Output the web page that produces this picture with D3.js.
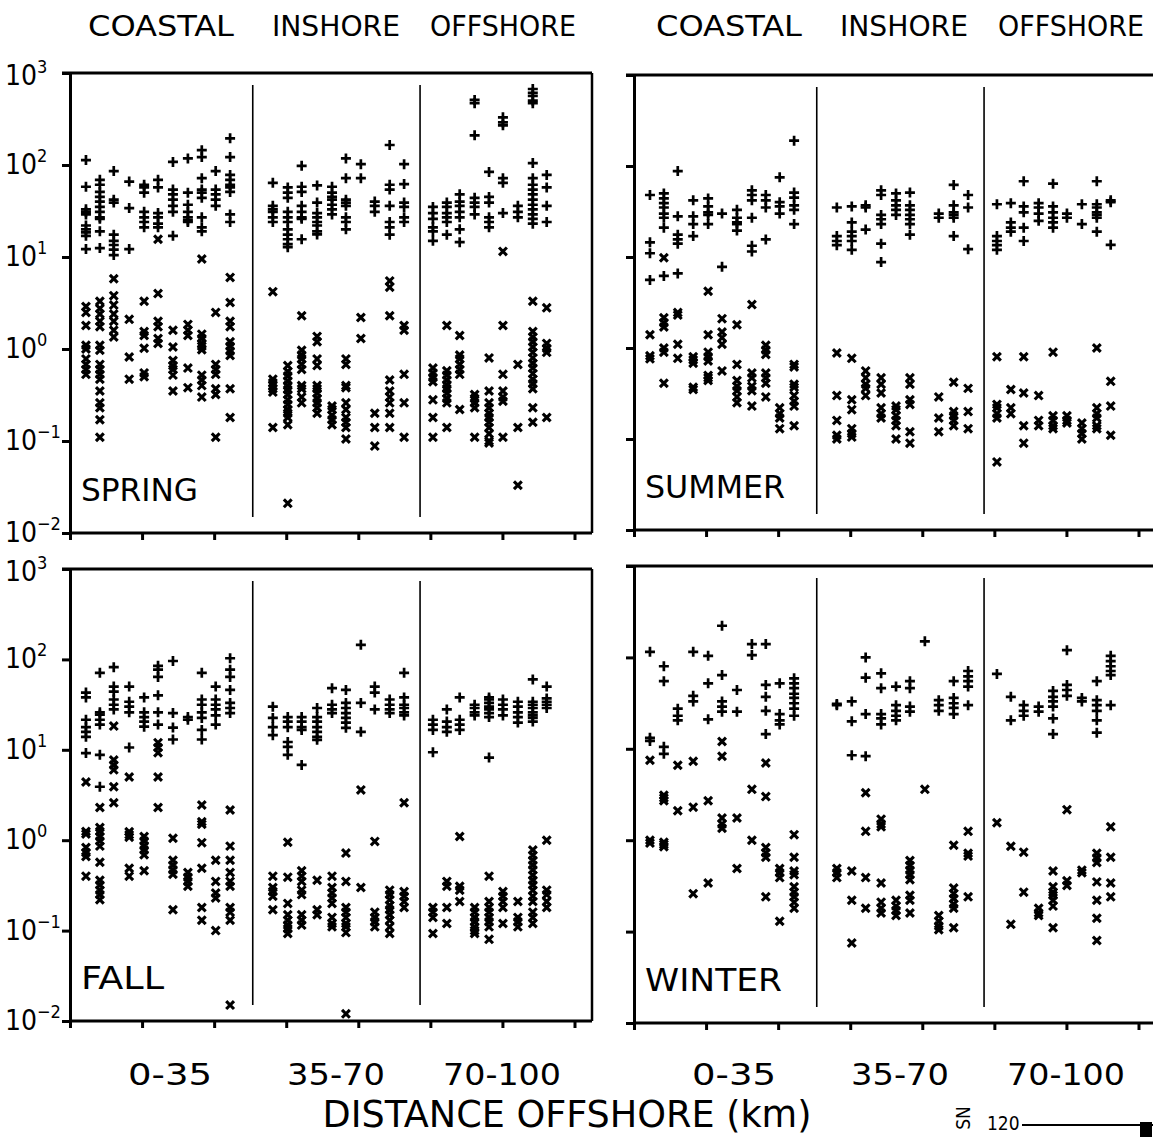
<!DOCTYPE html>
<html>
<head>
<meta charset="utf-8">
<script src="https://cdn.jsdelivr.net/npm/d3@7"></script>
<style>
  body { margin: 0; background: #fff; }
  svg { display: block; }
</style>
</head>
<body>
<div id="chart"></div>
<script>
// station positions (km offshore) : 11 coastal, 10 inshore, 9 offshore
const stationKm = [3.1, 5.8, 8.5, 11.5, 14.4, 17.1, 20.0, 22.9, 25.6, 28.3, 31.1,
                   39.4, 42.3, 45.0, 48.0, 50.9, 53.6, 56.5, 59.2, 62.1, 64.9,
                   70.5, 73.2, 75.7, 78.6, 81.4, 84.1, 87.0, 89.9, 92.6];
const regionNames = ["COASTAL", "INSHORE", "OFFSHORE"];
const rangeLabels = ["0-35", "35-70", "70-100"];
const dividerKm = [35.5, 68];
const xTickKm = [0, 14, 28, 42, 56, 70, 84, 98];
const yTickPowers = [-2, -1, 0, 1, 2, 3];

// "+" values per station
const springPlus = [
  [113, 58, 33, 31, 29, 22, 20, 18.5, 17, 12.2], [69, 61, 51, 45, 40, 35, 31, 27, 26, 19, 12.5],
  [86, 42, 39, 17.5, 15, 13.5, 12, 10.5], [66, 34, 12.2], [61, 57, 50, 31, 27, 24, 21],
  [69, 57, 30, 27, 23, 21], [108, 54, 48, 42, 36, 31, 17], [118, 50, 37, 31, 27, 25, 24],
  [145, 122, 72, 54, 50, 44, 27, 21, 19], [86, 54, 48, 42, 36], [195, 122, 78, 69, 61, 57, 51, 29, 24],
  [64, 36, 33, 31, 27, 24], [57, 50, 44, 31, 27, 24, 20, 17.5, 15.6, 13.8, 12.8],
  [98, 58, 51, 36, 31, 27, 26, 15.6], [60, 39, 30, 27, 24, 22, 19, 17.6], [58, 50, 45, 42, 37, 33, 29],
  [118, 72, 42, 39, 36, 27, 24, 20], [102, 72], [40, 36, 31], [165, 61, 54, 36, 24, 21, 17.5],
  [102, 62, 39, 35, 27, 24],
  [35, 30, 26, 21, 19, 15], [39, 35, 30, 27, 24, 17.5], [48, 40, 36, 31, 27, 20, 14.5],
  [510, 470, 210, 44, 39, 35, 29], [84, 45, 39, 27, 24, 21], [330, 290, 270, 72, 64, 30], [36, 31, 27],
  [670, 610, 565, 500, 470, 105, 72, 61, 54, 48, 42, 37, 33, 29, 26, 23], [78, 57, 36, 24]
];
const springCross = [
  [2.9, 2.5, 1.8, 1.1, 1.0, 0.78, 0.68, 0.6, 0.53],
  [3.3, 2.76, 2.4, 2.0, 1.75, 1.1, 0.97, 0.68, 0.6, 0.53, 0.47, 0.35, 0.26, 0.23, 0.17, 0.11],
  [5.8, 3.8, 3.0, 2.4, 2.0, 1.6, 1.35], [2.1, 0.82, 0.47], [3.3, 1.55, 1.4, 1.02, 0.55, 0.5],
  [15.6, 4.0, 2.0, 1.75, 1.3, 1.15], [1.6, 1.05, 0.75, 0.66, 0.6, 0.52, 0.35], [1.85, 1.6, 1.4, 0.62, 0.38],
  [9.5, 1.45, 1.3, 1.15, 1.07, 0.98, 0.52, 0.46, 0.4, 0.3], [2.5, 0.68, 0.6, 0.53, 0.37, 0.32, 0.11],
  [6.0, 3.2, 2.0, 1.75, 1.2, 1.07, 0.95, 0.85, 0.37, 0.18],
  [4.2, 0.47, 0.43, 0.4, 0.37, 0.34, 0.14],
  [0.66, 0.57, 0.51, 0.45, 0.4, 0.36, 0.32, 0.28, 0.25, 0.22, 0.2, 0.18, 0.15, 0.021],
  [2.3, 0.97, 0.86, 0.78, 0.68, 0.6, 0.4, 0.37, 0.3, 0.26],
  [1.37, 1.2, 0.78, 0.66, 0.4, 0.37, 0.33, 0.29, 0.26, 0.23, 0.2], [0.24, 0.22, 0.19, 0.17, 0.15],
  [0.78, 0.68, 0.4, 0.38, 0.26, 0.22, 0.18, 0.16, 0.14, 0.105], [2.2, 1.3], [0.2, 0.14, 0.088],
  [5.5, 4.7, 2.3, 0.46, 0.35, 0.3, 0.26, 0.2, 0.14], [1.8, 1.6, 0.53, 0.26, 0.11],
  [0.62, 0.55, 0.49, 0.44, 0.28, 0.18, 0.11], [1.8, 0.58, 0.52, 0.46, 0.41, 0.37, 0.33, 0.29, 0.26, 0.14],
  [1.4, 0.86, 0.78, 0.68, 0.6, 0.53, 0.22], [0.32, 0.29, 0.26, 0.23, 0.11],
  [0.8, 0.35, 0.26, 0.23, 0.2, 0.18, 0.16, 0.14, 0.12, 0.1, 0.095], [11.5, 1.8, 0.53, 0.35, 0.3, 0.27, 0.11],
  [0.68, 0.14, 0.033],
  [3.3, 1.55, 1.35, 1.2, 1.05, 0.92, 0.8, 0.7, 0.62, 0.54, 0.47, 0.42, 0.37, 0.23, 0.16],
  [2.8, 1.15, 1.02, 0.92, 0.18]
];

const summerPlus = [
  [48, 14.5, 11, 5.6], [50, 44, 39, 35, 30, 27, 21, 6.2], [88, 28, 17.6, 15.6, 14, 6.6], [42, 28, 23, 17],
  [44, 36, 31, 29, 23], [30, 7.8], [33, 27, 24, 23, 19.5], [54, 48, 42, 27, 13.3, 11.5], [48, 42, 35, 15.6],
  [75, 40, 36, 30], [190, 51, 45, 37, 33, 23],
  [35, 17, 15, 13.5], [36, 24, 19, 17, 15, 12], [37, 35, 20], [54, 48, 29, 26, 23, 14, 8.8], [50, 42, 37, 33, 29],
  [51, 37, 33, 29, 26, 23, 17.6], [], [30, 27], [62, 37, 31, 29, 27, 17], [48, 35, 12.2],
  [38, 17, 15, 13.5, 12], [39, 24, 21, 19], [68, 36, 31, 21, 15], [39, 35, 30, 25], [64, 36, 31, 27, 24, 21],
  [30, 27], [38, 23], [68, 38, 35, 31, 29, 27, 19], [42, 40, 13.6]
];
const summerCross = [
  [1.4, 0.82, 0.76], [9.8, 2.15, 1.9, 1.7, 1.0, 0.9, 0.41], [2.45, 2.3, 1.1, 0.77], [0.8, 0.74, 0.68, 0.37, 0.35],
  [4.2, 1.4, 0.9, 0.8, 0.72, 0.5, 0.47, 0.44], [2.1, 1.5, 1.3, 1.1, 0.56], [1.8, 0.66, 0.44, 0.38, 0.34, 0.29, 0.25],
  [3.0, 0.53, 0.47, 0.38, 0.34, 0.23], [1.07, 0.95, 0.85, 0.53, 0.47, 0.41, 0.29], [0.22, 0.19, 0.17, 0.13],
  [0.66, 0.62, 0.4, 0.37, 0.3, 0.26, 0.23, 0.14],
  [0.88, 0.3, 0.16, 0.11, 0.1], [0.77, 0.27, 0.21, 0.13, 0.115, 0.105], [0.56, 0.47, 0.4, 0.36, 0.3],
  [0.47, 0.4, 0.32, 0.22, 0.19, 0.17], [0.23, 0.21, 0.18, 0.16, 0.14, 0.1], [0.47, 0.4, 0.27, 0.24, 0.12, 0.09],
  [], [0.29, 0.17, 0.12], [0.42, 0.2, 0.18, 0.16, 0.14], [0.36, 0.2, 0.13],
  [0.8, 0.24, 0.22, 0.19, 0.17, 0.056], [0.35, 0.22, 0.19], [0.8, 0.32, 0.14, 0.09], [0.3, 0.16, 0.14],
  [0.9, 0.18, 0.16, 0.14, 0.13], [0.18, 0.16, 0.15], [0.15, 0.13, 0.115, 0.1], [1.0, 0.22, 0.19, 0.17, 0.14, 0.13],
  [0.43, 0.23, 0.11]
];

const fallPlus = [
  [43, 38, 21.5, 17.8, 15.8, 13.9, 9.2], [71, 26, 24.5, 21.5, 19, 8.8, 3.9], [82, 50, 44, 36, 31.5, 28],
  [50, 34, 30, 26, 10.6], [38, 26, 23, 20.5, 18], [85, 77, 64, 40, 26, 19], [96, 25.5, 17.6, 13], [23, 21.5],
  [71, 36, 31.5, 26, 22.5, 16.6, 13], [50, 36, 31.5, 28, 24, 19], [103, 77, 64, 46, 33, 29, 25.5],
  [30, 22.5, 17.8, 14.5], [23, 20.5, 17.8, 12.2, 10.8, 8.8], [23, 20.5, 17.8, 16.6, 6.8],
  [29, 23, 20.5, 17.8, 15.8, 13.9, 12.9], [48, 31.5, 28, 25.5], [46, 33, 29, 25.5, 22.5, 20, 17.5],
  [145, 33, 15.8], [50, 43, 28], [36, 31.5, 28, 25.5], [71, 38, 31.5, 29, 26, 24],
  [21.5, 19, 16.6, 9.4], [28, 20.5, 17.8, 15.8], [38, 21.5, 19, 16.6], [31.5, 29, 26, 24],
  [38, 36, 33, 30, 28, 25.5, 23, 8.2], [36, 31.5, 28, 24], [34, 30, 26, 23, 20],
  [60, 34, 31.5, 29, 26, 24, 22.5, 20.5], [50, 37, 34, 31.5, 29]
];
const fallCross = [
  [4.4, 1.25, 1.17, 0.83, 0.73, 0.66, 0.4], [2.3, 1.38, 1.25, 1.1, 0.98, 0.86, 0.57, 0.36, 0.32, 0.28, 0.25, 0.22],
  [18.3, 7.7, 6.8, 6.0, 3.9, 2.6], [5.0, 1.24, 1.15, 1.08, 0.49, 0.4], [1.1, 0.98, 0.87, 0.78, 0.69, 0.46],
  [12, 10.6, 9.3, 5.0, 2.3], [1.05, 0.6, 0.53, 0.47, 0.42, 0.17], [0.44, 0.39, 0.35, 0.31],
  [2.45, 1.6, 1.5, 0.94, 0.49, 0.18, 0.13], [0.6, 0.35, 0.26, 0.23, 0.1],
  [2.16, 0.86, 0.6, 0.44, 0.35, 0.31, 0.18, 0.16, 0.13, 0.015],
  [0.4, 0.3, 0.27, 0.24, 0.17], [0.95, 0.39, 0.2, 0.15, 0.13, 0.115, 0.105, 0.093],
  [0.46, 0.4, 0.35, 0.28, 0.25, 0.15, 0.13, 0.115], [0.36, 0.17, 0.15], [0.4, 0.3, 0.26, 0.23, 0.2, 0.14, 0.12, 0.11],
  [0.72, 0.35, 0.18, 0.16, 0.14, 0.12, 0.11, 0.095, 0.012], [3.6, 0.3], [0.97, 0.16, 0.14, 0.125, 0.11],
  [0.28, 0.25, 0.22, 0.19, 0.17, 0.15, 0.13, 0.11, 0.093], [2.6, 0.27, 0.24, 0.21, 0.18],
  [0.18, 0.16, 0.14, 0.093], [0.35, 0.31, 0.18, 0.12], [1.1, 0.31, 0.28, 0.21],
  [0.18, 0.16, 0.14, 0.125, 0.11, 0.1, 0.093], [0.4, 0.21, 0.18, 0.16, 0.14, 0.125, 0.11, 0.08],
  [0.27, 0.24, 0.21, 0.18, 0.12], [0.21, 0.14, 0.125, 0.11],
  [0.78, 0.68, 0.6, 0.53, 0.47, 0.41, 0.36, 0.32, 0.28, 0.24, 0.21, 0.16, 0.14, 0.12], [1.0, 0.28, 0.25, 0.21, 0.18]
];

const winterPlus = [
  [115, 13.2, 12.2], [80, 55, 10.5, 8.8], [27.5, 23, 20.5], [115, 38, 33], [104, 52, 21], [222, 64, 33, 29, 25.5],
  [44, 25.5], [140, 106], [140, 50, 37, 26, 14.5], [52, 24, 20.5, 18.5], [59, 52, 46, 40, 36, 31.5, 27.5, 23],
  [30, 31], [33, 20, 8.5], [100, 60, 24, 8.3], [67, 46, 24, 21.5, 18.5], [48, 30, 26, 23, 20.5], [55, 46, 29, 25.5],
  [150], [34, 30, 26], [55, 36, 31.5, 28, 24], [71, 62, 55, 48, 30],
  [66], [37, 20.5], [30, 26, 23], [29, 25.5], [43, 37, 33, 29, 21.5, 14.5], [120, 50, 44, 38], [36, 33],
  [55, 34, 30, 26, 20.5, 15], [104, 91, 80, 71, 64, 30]
];
const winterCross = [
  [7.5, 1.0, 0.93], [3.1, 2.9, 2.7, 0.95, 0.9, 0.85], [6.6, 2.1], [7.3, 2.3, 0.26], [2.7, 0.34],
  [12, 8.3, 1.75, 1.5, 1.35], [1.75, 0.49], [3.6, 1.0], [7, 3.0, 0.83, 0.73, 0.65, 0.24], [0.49, 0.44, 0.39, 0.13],
  [1.15, 0.65, 0.46, 0.42, 0.31, 0.27, 0.24, 0.21, 0.18],
  [0.49, 0.44, 0.39], [0.46, 0.22, 0.075], [3.3, 1.25, 0.39, 0.18], [1.7, 1.5, 1.4, 0.34, 0.21, 0.18, 0.16],
  [0.22, 0.19, 0.17, 0.15], [0.6, 0.53, 0.47, 0.42, 0.37, 0.25, 0.22, 0.16], [3.6], [0.15, 0.13, 0.115, 0.105],
  [0.88, 0.3, 0.26, 0.23, 0.2, 0.18, 0.11], [1.25, 0.72, 0.67, 0.24],
  [1.55], [0.86, 0.12], [0.74, 0.27], [0.18, 0.16, 0.15], [0.46, 0.31, 0.27, 0.25, 0.22, 0.19, 0.11],
  [2.16, 0.36, 0.32], [0.47, 0.44], [0.72, 0.64, 0.57, 0.35, 0.22, 0.14, 0.08], [1.4, 0.65, 0.34, 0.24]
];

const width = 1153;
const height = 1137;
const font = "'DejaVu Sans Condensed', 'DejaVu Sans', sans-serif";

const svg = d3.select("#chart").append("svg")
    .attr("width", width)
    .attr("height", height)
    .style("font-family", font);

// Layout of the four panels
const panels = [
  { season: "SPRING", plus: springPlus, cross: springCross, left: 70, top: 73, bottom: 533, right: 592, yLabels: true },
  { season: "SUMMER", plus: summerPlus, cross: summerCross, left: 634, top: 75, bottom: 530, right: null, yLabels: false },
  { season: "FALL", plus: fallPlus, cross: fallCross, left: 70, top: 569, bottom: 1021, right: 592, yLabels: true },
  { season: "WINTER", plus: winterPlus, cross: winterCross, left: 634, top: 566, bottom: 1023, right: null, yLabels: false }
];
const seasonWidths = { SPRING: 117, SUMMER: 140, FALL: 83, WINTER: 137 };

const plusPath = "M-5,0H5M0,-5V5";
const crossPath = "M-3.9,-3.9L3.9,3.9M3.9,-3.9L-3.9,3.9";

panels.forEach(p => {
  const x = d3.scaleLinear().domain([0, 101.4]).range([p.left, p.left + 522]);
  const y = d3.scaleLog().domain([0.01, 1000]).range([p.bottom, p.top]);
  const g = svg.append("g");

  // frame: top and (for left column) right border
  g.append("line")
      .attr("x1", p.left - 8).attr("x2", p.right ? p.right : width)
      .attr("y1", p.top).attr("y2", p.top)
      .attr("stroke", "#000").attr("stroke-width", 3);
  if (p.right) {
    g.append("line")
        .attr("x1", p.right).attr("x2", p.right)
        .attr("y1", p.top).attr("y2", p.bottom)
        .attr("stroke", "#000").attr("stroke-width", 2.5);
  }

  // y axis
  const ya = g.append("g")
      .attr("transform", `translate(${p.left},0)`)
      .call(d3.axisLeft(y).tickValues(yTickPowers.map(e => Math.pow(10, e))).tickFormat("").tickSize(8).tickSizeOuter(0));
  ya.selectAll("path, line").attr("stroke", "#000").attr("stroke-width", 3);

  // x axis
  const xa = g.append("g")
      .attr("transform", `translate(0,${p.bottom})`)
      .call(d3.axisBottom(x).tickValues(xTickKm).tickFormat("").tickSize(7).tickSizeOuter(0));
  xa.selectAll("path, line").attr("stroke", "#000").attr("stroke-width", 3);
  xa.select("path").attr("d", `M${p.left},0H${p.right ? p.right : width}`);

  // region dividers
  g.selectAll(".divider")
    .data(dividerKm)
    .enter().append("line")
      .attr("x1", d => x(d)).attr("x2", d => x(d))
      .attr("y1", p.top + 12).attr("y2", p.bottom - 16)
      .attr("stroke", "#000").attr("stroke-width", 1.6);

  // y tick labels 10^n
  if (p.yLabels) {
    const lab = g.selectAll(".ylab")
      .data(yTickPowers)
      .enter().append("text")
        .attr("x", 5)
        .attr("y", d => y(Math.pow(10, d)) + (d === 3 ? 12 : 9))
        .attr("font-size", 28)
        .attr("fill", "#000");
    lab.append("tspan").text("10");
    lab.append("tspan")
        .attr("dy", -12)
        .attr("font-size", 18)
        .text(d => String(d).replace("-", "\u2212"));
  }

  // points
  const pts = [];
  p.plus.forEach((vals, i) => vals.forEach(v => pts.push({ km: stationKm[i], v: v, type: "plus" })));
  p.cross.forEach((vals, i) => vals.forEach(v => pts.push({ km: stationKm[i], v: v, type: "cross" })));

  g.selectAll(".pt")
    .data(pts)
    .enter().append("path")
      .attr("transform", d => `translate(${x(d.km)},${y(d.v)})`)
      .attr("d", d => d.type === "plus" ? plusPath : crossPath)
      .attr("fill", "none")
      .attr("stroke", "#000")
      .attr("stroke-width", d => d.type === "plus" ? 2.7 : 3.1);

  // season label
  g.append("text")
      .attr("x", p.left + 11)
      .attr("y", p.bottom - 32)
      .attr("font-size", 32)
      .attr("textLength", seasonWidths[p.season])
      .attr("lengthAdjust", "spacingAndGlyphs")
      .text(p.season);
});

// region names at the top and distance ranges below
const colLefts = [70, 634];
const regionCentres = [161, 336, 503];
const regionWidths = [146, 128, 146];
const rangeCentres = [170, 336, 502];
const rangeWidths = [84, 98, 118];

colLefts.forEach(cl => {
  regionNames.forEach((name, i) => {
    svg.append("text")
        .attr("x", cl - 70 + regionCentres[i] + (cl > 70 ? 4 : 0))
        .attr("y", 36)
        .attr("text-anchor", "middle")
        .attr("font-size", 29)
        .attr("textLength", regionWidths[i])
        .attr("lengthAdjust", "spacingAndGlyphs")
        .text(name);
  });
  rangeLabels.forEach((name, i) => {
    svg.append("text")
        .attr("x", cl - 70 + rangeCentres[i])
        .attr("y", 1085)
        .attr("text-anchor", "middle")
        .attr("font-size", 31)
        .attr("textLength", rangeWidths[i])
        .attr("lengthAdjust", "spacingAndGlyphs")
        .text(name);
  });
});

svg.append("text")
    .attr("x", 567)
    .attr("y", 1127)
    .attr("text-anchor", "middle")
    .attr("font-size", 38)
    .attr("textLength", 489)
    .attr("lengthAdjust", "spacingAndGlyphs")
    .text("DISTANCE OFFSHORE (km)");

// fragment of the next figure at the bottom right corner
svg.append("text")
    .attr("transform", "translate(970,1118) rotate(-90)")
    .attr("font-size", 19)
    .attr("text-anchor", "middle")
    .text("SN");
svg.append("text")
    .attr("x", 987).attr("y", 1130)
    .attr("font-size", 19)
    .text("120");
svg.append("line")
    .attr("x1", 1022).attr("x2", width)
    .attr("y1", 1125).attr("y2", 1125)
    .attr("stroke", "#000").attr("stroke-width", 2);
svg.append("rect")
    .attr("x", 1140).attr("y", 1122).attr("width", 12).attr("height", 15)
    .attr("fill", "#000");
</script>
</body>
</html>
